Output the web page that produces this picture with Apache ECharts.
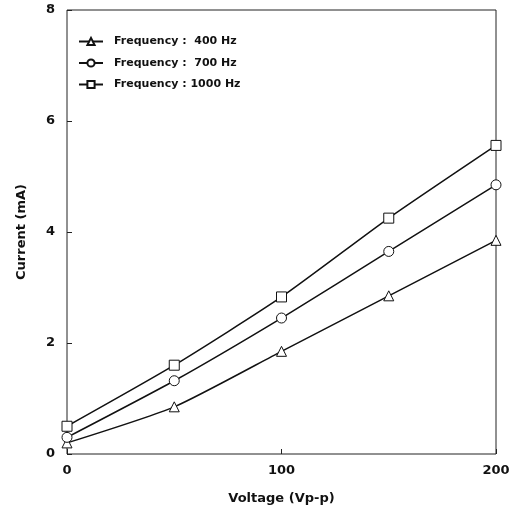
<!DOCTYPE html>
<html>
<head>
<meta charset="UTF-8" />
<title>current vs voltage</title>
<script src="https://cdn.jsdelivr.net/npm/echarts@6/dist/echarts.min.js"></script>
</head>
<body style="margin:0;background:#fff">
<div id="chart" style="width:527px;height:515px"></div>
<script>
var voltage = [0, 50, 100, 150, 200];
var seriesNames = ['Frequency :  400 Hz', 'Frequency :  700 Hz', 'Frequency : 1000 Hz'];
var current400 = [0.2, 0.85, 1.85, 2.85, 3.85];
var current700 = [0.3, 1.32, 2.45, 3.65, 4.85];
var current1000 = [0.5, 1.6, 2.83, 4.25, 5.56];
var symbols = ['triangle', 'circle', 'rect'];

var chart = echarts.init(document.getElementById('chart'));
var font = 'DejaVu Sans';

function pairs(vals) {
  var out = [];
  for (var i = 0; i < voltage.length; i++) out.push([voltage[i], vals[i]]);
  return out;
}

var allVals = [current400, current700, current1000];
var series = [];
for (var i = 0; i < allVals.length; i++) {
  series.push({
    name: seriesNames[i],
    type: 'line',
    smooth: 0.2,
    data: pairs(allVals[i]),
    symbol: symbols[i],
    symbolSize: 10,
    lineStyle: { color: '#111', width: 1.5 },
    itemStyle: { color: '#fff', borderColor: '#111', borderWidth: 1 }
  });
}

chart.setOption({
  animation: false,
  grid: {
    left: 67, right: 31, top: 10, bottom: 61,
    show: true, borderColor: '#222', borderWidth: 1, backgroundColor: 'transparent'
  },
  legend: {
    orient: 'vertical',
    left: 73, top: 31,
    itemGap: 10.5,
    itemWidth: 24, itemHeight: 9,
    textStyle: { fontFamily: font, fontWeight: 'bold', fontSize: 11, color: '#111', padding: [0, 0, 0, 6] },
    data: seriesNames
  },
  xAxis: {
    type: 'value', min: 0, max: 200, interval: 100,
    name: 'Voltage (Vp-p)', nameLocation: 'middle', nameGap: 38,
    nameTextStyle: { fontFamily: font, fontWeight: 'bold', fontSize: 13, color: '#111' },
    axisLine: { show: false },
    axisTick: { inside: true, length: 5, lineStyle: { color: '#222' } },
    splitLine: { show: false },
    axisLabel: { fontFamily: font, fontWeight: 'bold', fontSize: 13, color: '#111', margin: 10 }
  },
  yAxis: {
    type: 'value', min: 0, max: 8, interval: 2,
    name: 'Current (mA)', nameLocation: 'middle', nameGap: 39,
    nameTextStyle: { fontFamily: font, fontWeight: 'bold', fontSize: 13, color: '#111' },
    axisLine: { show: false },
    axisTick: { inside: true, length: 5, lineStyle: { color: '#222' } },
    splitLine: { show: false },
    axisLabel: { fontFamily: font, fontWeight: 'bold', fontSize: 13, color: '#111', margin: 12 }
  },
  series: series
});
</script>
</body>
</html>
